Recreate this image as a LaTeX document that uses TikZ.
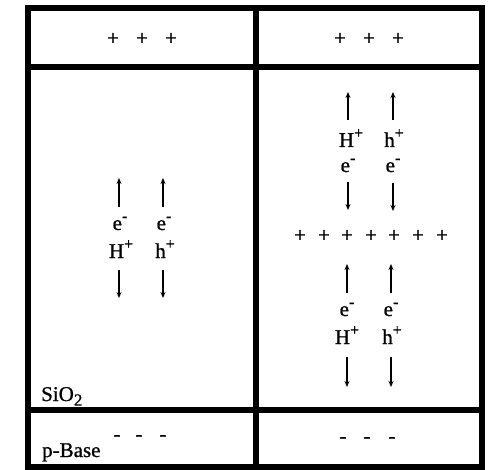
\documentclass[tikz,border=0pt]{standalone}
\usepackage{fontspec}
\setmainfont[FakeBold=0.9]{Liberation Serif}
\usetikzlibrary{arrows.meta}
\newcommand{\myup}[1]{\raisebox{0.42em}{\fontsize{16}{18}\selectfont #1}}
\begin{document}
\begin{tikzpicture}[x=1pt,y=-1pt,
  frame/.style={line width=6pt},
  lbl/.style={font=\fontsize{21}{24}\selectfont, inner sep=0pt, anchor=base},
  sym/.style={font=\fontsize{21}{24}\selectfont, inner sep=0pt},
  arr/.style={line width=1.3pt, -{Stealth[length=6pt,width=5pt]}}]
\useasboundingbox (0,0) rectangle (489,470);
% frame
\draw[frame] (28,8) rectangle (482,467);
\draw[frame] (28,67.5) -- (482,67.5);
\draw[frame] (28,410) -- (482,410);
\draw[frame] (255.5,8) -- (255.5,467);
% plus signs
\foreach \i/\x in {1/113,2/142,3/171} \node[sym] (tl\i) at (\x,39) {+};
\foreach \i/\x in {1/340,2/369,3/398} \node[sym] (tr\i) at (\x,39) {+};
\foreach \i/\x in {1/300,2/324,3/347,4/371,5/394,6/418,7/442} \node[sym] (mr\i) at (\x,236) {+};
% minus signs
\foreach \i/\x in {1/117,2/139,3/163} \node[sym] (bl\i) at (\x,438) {-};
\foreach \i/\x in {1/343,2/367,3/392} \node[sym] (br\i) at (\x,440) {-};
% left column labels
\node[lbl] (le1) at (120,230) {e\myup{-}};
\node[lbl] (le2) at (164,230) {e\myup{-}};
\node[lbl] (lH) at (121,258) {H\myup{+}};
\node[lbl] (lh) at (165,258) {h\myup{+}};
% right upper labels
\node[lbl] (uH) at (351,147) {H\myup{+}};
\node[lbl] (uh) at (394,147) {h\myup{+}};
\node[lbl] (ue1) at (348,172) {e\myup{-}};
\node[lbl] (ue2) at (393,172) {e\myup{-}};
% right lower labels
\node[lbl] (de1) at (347,316) {e\myup{-}};
\node[lbl] (de2) at (391,316) {e\myup{-}};
\node[lbl] (dH) at (347,344) {H\myup{+}};
\node[lbl] (dh) at (392,344) {h\myup{+}};
% layer names
\node[lbl, anchor=base west] (sio) at (41,401) {SiO\raisebox{-0.22em}{\fontsize{17}{18}\selectfont 2}};
\node[lbl, anchor=base west] (pb) at (42,457) {p-Base};
% arrows
\foreach \n/\x/\ya/\yb in {a1/119/207/178, a2/163/207/178,
    a3/119/270/298, a4/163/270/298,
    a5/348/120/92, a6/393/120/92,
    a7/348/182/210, a8/393/183/211,
    a9/347/293/264, a10/391/293/264,
    a11/347/357/387, a12/391/357/387} {
  \coordinate (\n s) at (\x,\ya);
  \coordinate (\n e) at (\x,\yb);
  \draw[arr] (\n s) -- (\n e);
}
\end{tikzpicture}
\end{document}
